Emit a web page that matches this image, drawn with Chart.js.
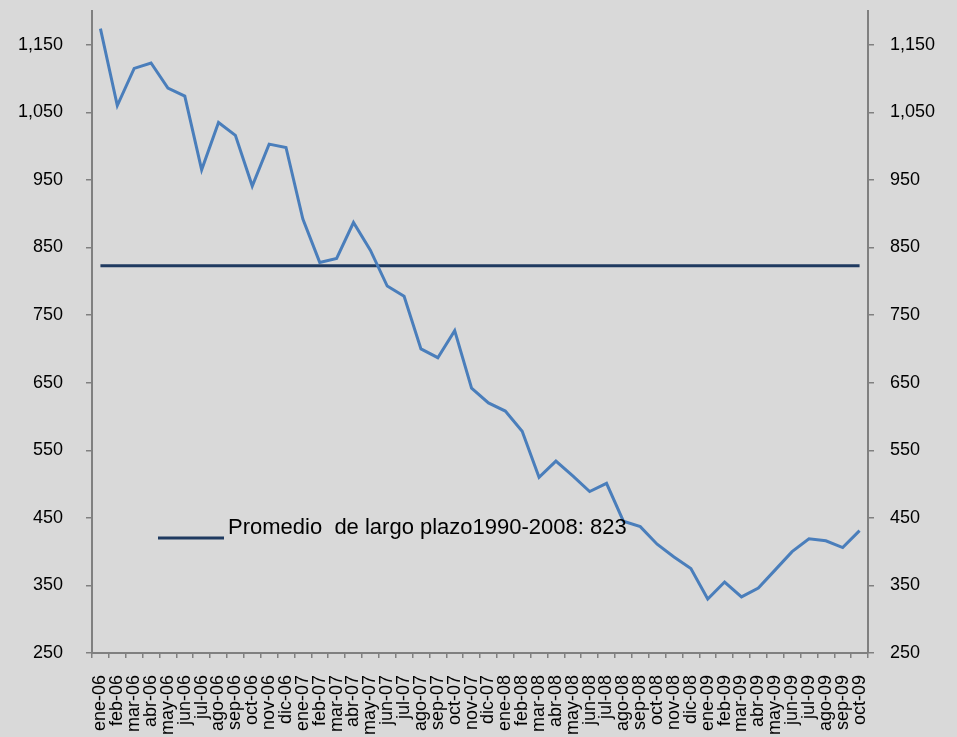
<!DOCTYPE html>
<html>
<head>
<meta charset="utf-8">
<script src="https://cdn.jsdelivr.net/npm/chart.js@4/dist/chart.umd.min.js"></script>
<style>
  html, body { margin: 0; padding: 0; background: #d9d9d9; }
  #wrap { width: 957px; height: 737px; }
</style>
</head>
<body>
<div id="wrap"><canvas id="precioChart" width="957" height="737"></canvas></div>
<script>
// Meses (ene-06 ... oct-09)
const meses = [
  'ene-06','feb-06','mar-06','abr-06','may-06','jun-06','jul-06','ago-06','sep-06','oct-06','nov-06','dic-06',
  'ene-07','feb-07','mar-07','abr-07','may-07','jun-07','jul-07','ago-07','sep-07','oct-07','nov-07','dic-07',
  'ene-08','feb-08','mar-08','abr-08','may-08','jun-08','jul-08','ago-08','sep-08','oct-08','nov-08','dic-08',
  'ene-09','feb-09','mar-09','abr-09','may-09','jun-09','jul-09','ago-09','sep-09','oct-09'
];

// Serie mensual
const serie = [
  1174, 1060, 1115, 1123, 1086, 1074, 965, 1035, 1016, 941, 1003, 998,
  892, 828, 834, 887, 846, 793, 778, 700, 687, 727, 642, 620,
  608, 578, 510, 534, 512, 489, 501, 445, 437, 411, 392, 375,
  330, 355, 333, 346, 373, 400, 419, 416, 406, 431
];

// Promedio de largo plazo 1990-2008
const promedio = 823;
const promedioTexto = 'Promedio  de largo plazo1990-2008: 823';

// Marcas del eje Y
const yTicks = [250, 350, 450, 550, 650, 750, 850, 950, 1050, 1150];

const gris = '#808080';
const fuente = { family: '"Liberation Sans", Arial, sans-serif', size: 18 };

// Leyenda dentro del gráfico
const leyendaPromedio = {
  id: 'leyendaPromedio',
  afterDraw(chart) {
    const ctx = chart.ctx;
    ctx.save();
    ctx.strokeStyle = '#1f3a60';
    ctx.lineWidth = 3;
    ctx.beginPath();
    ctx.moveTo(158, 538);
    ctx.lineTo(224, 538);
    ctx.stroke();
    ctx.fillStyle = '#000';
    ctx.font = '22px "Liberation Sans", Arial, sans-serif';
    ctx.textBaseline = 'alphabetic';
    ctx.fillText(promedioTexto, 228, 534);
    ctx.restore();
  }
};

const yAxis = (pos, pad, width) => ({
  position: pos,
  min: 250,
  max: 1200,
  afterBuildTicks: (s) => { s.ticks = yTicks.map(v => ({ value: v })); },
  afterFit: (s) => { s.width = width; s.paddingTop = 0; s.paddingBottom = 0; },
  border: { display: true, color: gris, width: 2 },
  grid: { drawOnChartArea: false, color: gris, lineWidth: 1.5, tickLength: 6 },
  ticks: {
    color: '#000',
    font: fuente,
    padding: pad,
    callback: (v) => v.toLocaleString('en-US')
  }
});

const ctx = document.getElementById('precioChart').getContext('2d');
new Chart(ctx, {
  type: 'line',
  data: {
    labels: meses,
    datasets: [
      {
        data: serie,
        borderColor: '#4a7ebb',
        borderWidth: 3,
        pointRadius: 0,
        tension: 0,
        yAxisID: 'y'
      },
      {
        data: [{ x: meses[0], y: promedio }, { x: meses[meses.length - 1], y: promedio }],
        borderColor: '#1f3a60',
        borderWidth: 3,
        pointRadius: 0,
        yAxisID: 'y'
      }
    ]
  },
  options: {
    responsive: false,
    animation: false,
    layout: { padding: { top: 11, left: 0, right: 0, bottom: 0 } },
    plugins: { legend: { display: false }, tooltip: { enabled: false } },
    scales: {
      x: {
        offset: true,
        afterFit: (s) => { s.height = 84; s.paddingLeft = 0; s.paddingRight = 0; },
        border: { display: true, color: gris, width: 2 },
        grid: { offset: true, drawOnChartArea: false, color: gris, lineWidth: 1.5, tickLength: 5 },
        ticks: {
          color: '#000',
          font: fuente,
          autoSkip: false,
          minRotation: 90,
          maxRotation: 90,
          padding: 17
        }
      },
      y: yAxis('left', 23, 92),
      y2: yAxis('right', 16, 89)
    }
  },
  plugins: [leyendaPromedio]
});
</script>
</body>
</html>
